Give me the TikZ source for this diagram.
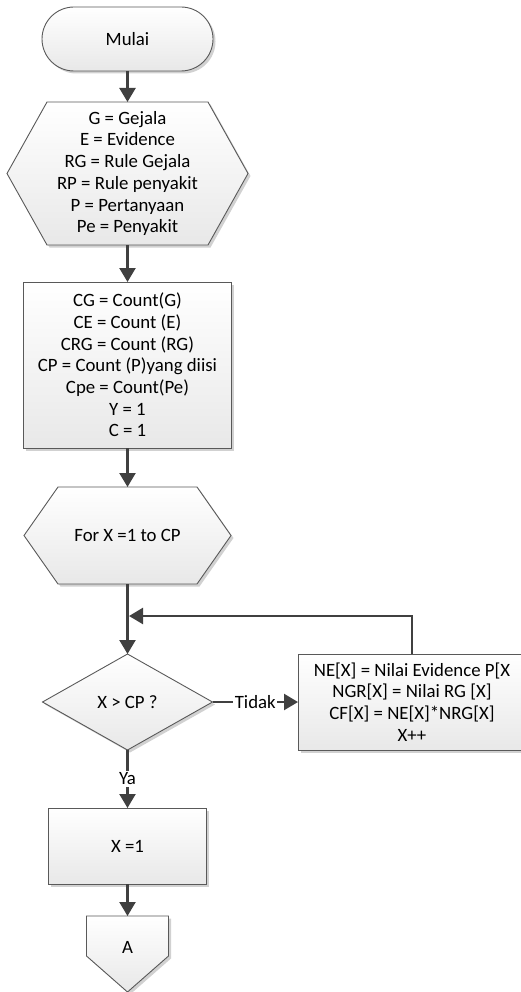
\documentclass[tikz,border=0pt]{standalone}
\usepackage{fontspec}
\setmainfont{Carlito}
\usetikzlibrary{arrows.meta,shadows,backgrounds,shapes.geometric}
\definecolor{edge}{HTML}{595959}
\definecolor{wire}{HTML}{404040}
\tikzset{
  boxfill/.style={top color=white, bottom color=black!9, draw=edge, line width=0.9pt,
    drop shadow={shadow xshift=2.5pt, shadow yshift=-2.5pt, opacity=0.18, fill=black}},
  txt/.style={font=\fontsize{18.8}{21.7}\selectfont, text=black, align=center,
    inner sep=0pt, outer sep=0pt},
  terminal/.style={txt, boxfill, rectangle, rounded corners=32pt},
  procbox/.style={txt, boxfill, rectangle},
  decision/.style={txt, boxfill, diamond, aspect=1.77},
  frame/.style={txt, rectangle},
  flow/.style={draw=wire, line width=2.4pt, -{Triangle[width=16pt,length=14pt]}},
  tag/.style={font=\fontsize{18.8}{21.7}\selectfont, text=black, fill=white, inner sep=1.5pt},
}
\begin{document}
\begin{tikzpicture}[x=1pt,y=-1pt]
\useasboundingbox (0,0) rectangle (521,992);

% main column
\node[terminal, minimum width=171pt, minimum height=64pt] (start) at (127.5,39) {Mulai};
\node[frame, minimum width=241pt, minimum height=143pt] (defs) at (127.5,173.5)
  {G = Gejala\\E = Evidence\\RG = Rule Gejala\\RP = Rule penyakit\\P = Pertanyaan\\Pe = Penyakit};
\node[procbox, minimum width=208pt, minimum height=166pt] (init) at (127.5,365)
  {CG = Count(G)\\CE = Count (E)\\CRG = Count (RG)\\CP = Count (P)yang diisi\\Cpe = Count(Pe)\\Y = 1\\C = 1};
\node[frame, minimum width=207pt, minimum height=97pt] (loop) at (127.5,535.5) {For X =1 to CP};
\node[decision, minimum width=170pt, minimum height=96pt] (test) at (127.5,702) {X > CP ?};
\node[procbox, minimum width=158pt, minimum height=76pt] (reset) at (127.5,846) {X =1};
\node[frame, minimum width=82pt, minimum height=76pt] (offA) at (127.5,954) {};
\node[txt] (offAtext) at (127.5,947) {A};

% loop body
\node[procbox, minimum width=228pt, minimum height=96pt] (update) at (412,702)
  {NE[X] = Nilai Evidence P[X\\NGR[X] = Nilai RG [X]\\CF[X] = NE[X]*NRG[X]\\X++};

% outlines of the hexagons and the off-page connector
\begin{pgfonlayer}{background}
  \path[boxfill] (defs.west) -- ([xshift=40pt]defs.north west) -- ([xshift=-40pt]defs.north east)
    -- (defs.east) -- ([xshift=-40pt]defs.south east) -- ([xshift=40pt]defs.south west) -- cycle;
  \path[boxfill] (loop.west) -- ([xshift=34pt]loop.north west) -- ([xshift=-34pt]loop.north east)
    -- (loop.east) -- ([xshift=-34pt]loop.south east) -- ([xshift=34pt]loop.south west) -- cycle;
  \path[boxfill] (offA.north west) -- (offA.north east) -- ([yshift=-2pt]offA.east)
    -- (offA.south) -- ([yshift=-2pt]offA.west) -- cycle;
\end{pgfonlayer}

% connectors
\draw[flow] (start.south) -- (defs.north);
\draw[flow] (defs.south) -- (init.north);
\draw[flow] (init.south) -- (loop.north);
\draw[flow] (loop.south) -- (test.north);
\coordinate (merge) at (129,616);
\draw[flow] (update.north) |- (merge);
\draw[flow] (test.east) -- node[tag] {Tidak} (update.west);
\draw[flow] (test.south) -- node[tag] {Ya} (reset.north);
\draw[flow] (reset.south) -- (offA.north);
\end{tikzpicture}
\end{document}
